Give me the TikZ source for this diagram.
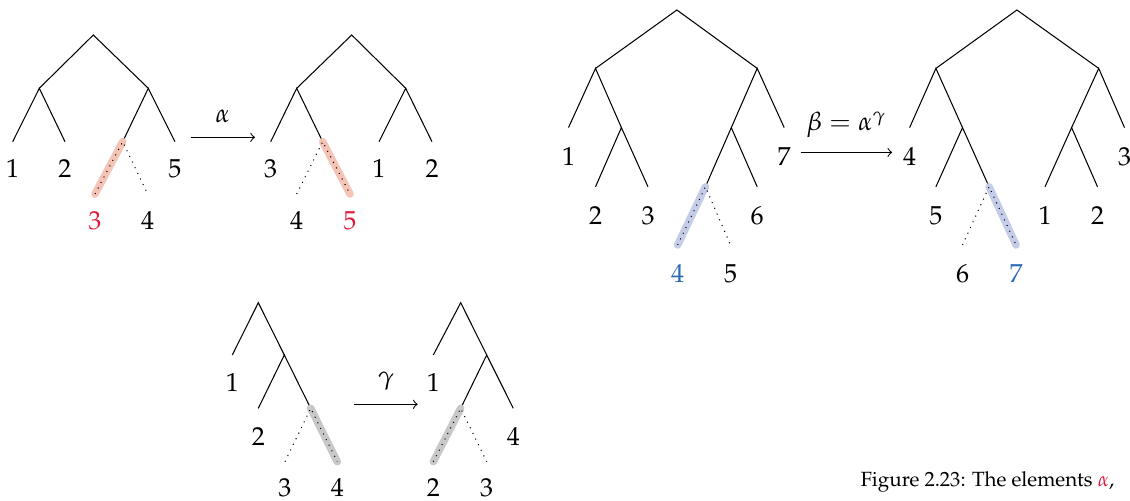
\documentclass[tikz,border=0pt]{standalone}
\usepackage[T1]{fontenc}
\usepackage{mathpazo}
\usepackage{xcolor}
\usetikzlibrary{positioning}

\definecolor{hlred}{RGB}{244,196,182}
\definecolor{labred}{RGB}{227,26,60}
\definecolor{hlblue}{RGB}{197,204,232}
\definecolor{labblue}{RGB}{43,106,180}
\definecolor{hlgray}{RGB}{200,200,200}

\tikzset{
  ghost/.style={dotted},
  mark red/.style={draw=hlred, line width=2.9pt, line cap=round},
  mark blue/.style={draw=hlblue, line width=2.9pt, line cap=round},
  mark gray/.style={draw=hlgray, line width=2.9pt, line cap=round},
  lab/.style={inner sep=0pt, font=\normalsize},
}

\begin{document}
\begin{tikzpicture}[x=0.01351cm, y=-0.01351cm]
    \useasboundingbox (0,0) rectangle (1130,500);

    % tree before alpha
    \coordinate (t1r) at (93.3,35);
    \coordinate (t1a) at (39.3,88.3);
    \coordinate (t1b) at (148.3,88.3);
    \coordinate (t1l1) at (12.7,141.7);
    \coordinate (t1l2) at (65,141.7);
    \coordinate (t1c) at (122.7,141.7);
    \coordinate (t1l5) at (175,141.7);
    \coordinate (t1l3) at (95,194);
    \coordinate (t1l4) at (147.7,194);

    \draw (t1a) -- (t1r) -- (t1b);
    \draw (t1l1) -- (t1a) -- (t1l2);
    \draw (t1c) -- (t1b) -- (t1l5);
    \draw[mark red] (t1c) -- (t1l3);
    \draw[ghost] (t1l3) -- (t1c) -- (t1l4);

    \node[lab, below=6.6pt of t1l1] (n1a) {1};
    \node[lab, below=6.6pt of t1l2] (n1b) {2};
    \node[lab, below=6.6pt of t1l5] (n1e) {5};
    \node[lab, below=6.6pt of t1l3, text=labred] (n1c) {3};
    \node[lab, below=6.6pt of t1l4] (n1d) {4};

    % alpha
    \coordinate (ar1s) at (190.7,137.3);
    \coordinate (ar1e) at (255,137.3);
    \draw[->] (ar1s) -- (ar1e) node[midway, above=2pt] (alab) {$\alpha$};

    % tree after alpha
    \coordinate (t2r) at (351.7,35);
    \coordinate (t2a) at (296.7,88.3);
    \coordinate (t2b) at (405.7,88.3);
    \coordinate (t2l3) at (270.7,141.7);
    \coordinate (t2c) at (322.7,141.7);
    \coordinate (t2l1) at (379,141.7);
    \coordinate (t2l2) at (432,141.7);
    \coordinate (t2l4) at (296.7,194);
    \coordinate (t2l5) at (350,194);

    \draw (t2a) -- (t2r) -- (t2b);
    \draw (t2l3) -- (t2a) -- (t2c);
    \draw (t2l1) -- (t2b) -- (t2l2);
    \draw[mark red] (t2c) -- (t2l5);
    \draw[ghost] (t2l4) -- (t2c) -- (t2l5);

    \node[lab, below=6.6pt of t2l3] (n2c) {3};
    \node[lab, below=6.6pt of t2l1] (n2a) {1};
    \node[lab, below=6.6pt of t2l2] (n2b) {2};
    \node[lab, below=6.6pt of t2l4] (n2d) {4};
    \node[lab, below=6.6pt of t2l5, text=labred] (n2e) {5};

    % tree before beta
    \coordinate (t3r) at (676.9,10);
    \coordinate (t3a) at (595.5,68.4);
    \coordinate (t3b) at (757.2,68.4);
    \coordinate (t3l1) at (568.5,127.6);
    \coordinate (t3c) at (621.4,127.6);
    \coordinate (t3l2) at (595.5,186.8);
    \coordinate (t3l3) at (648,186.8);
    \coordinate (t3d) at (731.3,127.6);
    \coordinate (t3l7) at (784.2,127.6);
    \coordinate (t3e) at (705.4,186.8);
    \coordinate (t3l6) at (757.2,186.8);
    \coordinate (t3l4) at (677.6,245);
    \coordinate (t3l5) at (730.5,245);

    \draw (t3a) -- (t3r) -- (t3b);
    \draw (t3l1) -- (t3a) -- (t3c);
    \draw (t3l2) -- (t3c) -- (t3l3);
    \draw (t3d) -- (t3b) -- (t3l7);
    \draw (t3e) -- (t3d) -- (t3l6);
    \draw[mark blue] (t3e) -- (t3l4);
    \draw[ghost] (t3l4) -- (t3e) -- (t3l5);

    \node[lab, below=7.4pt of t3l1] (n3a) {1};
    \node[lab, below=7.4pt of t3l7] (n3g) {7};
    \node[lab, below=7.4pt of t3l2] (n3b) {2};
    \node[lab, below=7.4pt of t3l3] (n3c) {3};
    \node[lab, below=7.4pt of t3l6] (n3f) {6};
    \node[lab, below=7.4pt of t3l4, text=labblue] (n3d) {4};
    \node[lab, below=7.4pt of t3l5] (n3e) {5};

    % beta
    \coordinate (ar2s) at (800.8,152.4);
    \coordinate (ar2e) at (892.2,152.4);
    \draw[->] (ar2s) -- (ar2e) node[midway, above=2pt] (blab) {$\beta = \alpha^{\gamma}$};

    % tree after beta
    \coordinate (t4r) at (1016.9,10);
    \coordinate (t4a) at (935.9,68.4);
    \coordinate (t4b) at (1098.7,68.4);
    \coordinate (t4l4) at (909.6,127.6);
    \coordinate (t4c) at (962.5,127.6);
    \coordinate (t4l5) at (935.9,186.8);
    \coordinate (t4e) at (989.1,186.8);
    \coordinate (t4l6) at (962.5,245);
    \coordinate (t4l7) at (1016.1,245);
    \coordinate (t4d) at (1071.6,127.6);
    \coordinate (t4l3) at (1124.5,127.6);
    \coordinate (t4l1) at (1045,186.8);
    \coordinate (t4l2) at (1097.5,186.8);

    \draw (t4a) -- (t4r) -- (t4b);
    \draw (t4l4) -- (t4a) -- (t4c);
    \draw (t4l5) -- (t4c) -- (t4e);
    \draw (t4d) -- (t4b) -- (t4l3);
    \draw (t4l1) -- (t4d) -- (t4l2);
    \draw[mark blue] (t4e) -- (t4l7);
    \draw[ghost] (t4l6) -- (t4e) -- (t4l7);

    \node[lab, below=7.4pt of t4l4] (n4d) {4};
    \node[lab, below=7.4pt of t4l3] (n4c) {3};
    \node[lab, below=7.4pt of t4l5] (n4e) {5};
    \node[lab, below=7.4pt of t4l1] (n4a) {1};
    \node[lab, below=7.4pt of t4l2] (n4b) {2};
    \node[lab, below=7.4pt of t4l6] (n4f) {6};
    \node[lab, below=7.4pt of t4l7, text=labblue] (n4g) {7};

    % tree before gamma
    \coordinate (t5r) at (258.3,302.7);
    \coordinate (t5l1) at (232.3,355);
    \coordinate (t5a) at (284.3,355);
    \coordinate (t5l2) at (258.3,408.3);
    \coordinate (t5b) at (310.7,408.3);
    \coordinate (t5l3) at (285,461.7);
    \coordinate (t5l4) at (337.3,461.7);

    \draw (t5l1) -- (t5r) -- (t5a);
    \draw (t5l2) -- (t5a) -- (t5b);
    \draw[mark gray] (t5b) -- (t5l4);
    \draw[ghost] (t5l3) -- (t5b) -- (t5l4);

    \node[lab, below=7pt of t5l1] (n5a) {1};
    \node[lab, below=7pt of t5l2] (n5b) {2};
    \node[lab, below=6.2pt of t5l3] (n5c) {3};
    \node[lab, below=6.2pt of t5l4] (n5d) {4};

    % gamma
    \coordinate (ar3s) at (354.3,404.3);
    \coordinate (ar3e) at (417.7,404.3);
    \draw[->] (ar3s) -- (ar3e) node[midway, above=2pt] (glab) {$\gamma$};

    % tree after gamma
    \coordinate (t6r) at (460.7,302.7);
    \coordinate (t6l1) at (433.3,355);
    \coordinate (t6a) at (486.7,355);
    \coordinate (t6b) at (460.7,408.3);
    \coordinate (t6l4) at (513.3,408.3);
    \coordinate (t6l2) at (433.3,461.7);
    \coordinate (t6l3) at (486.7,461.7);

    \draw (t6l1) -- (t6r) -- (t6a);
    \draw (t6b) -- (t6a) -- (t6l4);
    \draw[mark gray] (t6b) -- (t6l2);
    \draw[ghost] (t6l2) -- (t6b) -- (t6l3);

    \node[lab, below=7pt of t6l1] (n6a) {1};
    \node[lab, below=7pt of t6l4] (n6d) {4};
    \node[lab, below=6.2pt of t6l2] (n6b) {2};
    \node[lab, below=6.2pt of t6l3] (n6c) {3};

    % caption
    \node[anchor=base west, inner sep=0pt, font=\fontsize{7.9}{9.5}\selectfont] (cap) at (860,486.7)
    {Figure 2.23: The elements \textcolor{labred}{$\alpha$},};
\end{tikzpicture}
\end{document}
